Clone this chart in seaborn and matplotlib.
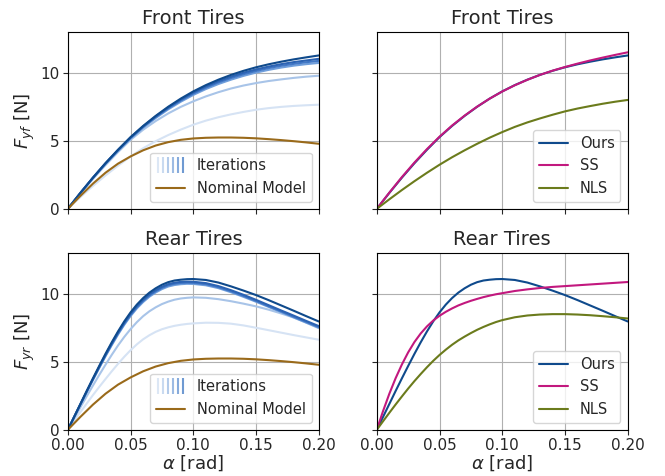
import numpy as np
import seaborn as sns
import matplotlib.pyplot as plt
from matplotlib.lines import Line2D
from matplotlib.legend_handler import HandlerTuple

sns.set_style('white')
plt.rcParams['font.family'] = ['DejaVu Sans']

alpha = [0.00, 0.01, 0.02, 0.03, 0.04, 0.05, 0.06, 0.07, 0.08, 0.09, 0.10,
         0.11, 0.12, 0.13, 0.14, 0.15, 0.16, 0.17, 0.18, 0.19, 0.20]
alpha_rear = [0.000, 0.005, 0.010, 0.015, 0.020, 0.025, 0.030, 0.035, 0.040, 0.045, 0.050,
              0.055, 0.060, 0.065, 0.070, 0.075, 0.080, 0.085, 0.090, 0.095, 0.100,
              0.11, 0.12, 0.13, 0.14, 0.15, 0.16, 0.17, 0.18, 0.19, 0.20]

# nominal model (same for front and rear)
nominal = [0, 0.95, 1.85, 2.65, 3.32, 3.85, 4.30, 4.65, 4.90, 5.07, 5.17,
           5.22, 5.24, 5.24, 5.22, 5.18, 5.12, 5.05, 4.97, 4.88, 4.78]

# front tire fits over iterations (last one = ours)
front_iters = [
    [0, 0.86, 1.68, 2.45, 3.17, 3.85, 4.45, 4.97, 5.42, 5.82, 6.18,
     6.48, 6.73, 6.94, 7.12, 7.28, 7.40, 7.49, 7.56, 7.61, 7.65],
    [0, 1.13, 2.20, 3.21, 4.17, 5.07, 5.81, 6.45, 7.01, 7.49, 7.90,
     8.26, 8.57, 8.84, 9.06, 9.24, 9.39, 9.51, 9.62, 9.71, 9.78],
    [0, 1.15, 2.25, 3.29, 4.26, 5.16, 5.96, 6.67, 7.31, 7.87, 8.37,
     8.80, 9.17, 9.49, 9.77, 10.01, 10.21, 10.38, 10.52, 10.63, 10.72],
    [0, 1.16, 2.27, 3.32, 4.30, 5.21, 6.02, 6.74, 7.39, 7.96, 8.47,
     8.91, 9.29, 9.61, 9.89, 10.13, 10.34, 10.51, 10.65, 10.77, 10.87],
    [0, 1.17, 2.29, 3.35, 4.33, 5.25, 6.06, 6.79, 7.45, 8.03, 8.55,
     9.00, 9.38, 9.71, 10.00, 10.24, 10.45, 10.63, 10.78, 10.90, 11.02],
    [0, 1.17, 2.29, 3.35, 4.34, 5.27, 6.09, 6.83, 7.50, 8.10, 8.63,
     9.09, 9.49, 9.84, 10.14, 10.40, 10.62, 10.81, 10.98, 11.13, 11.27],
]
front_ss = [0, 1.19, 2.33, 3.40, 4.39, 5.30, 6.12, 6.85, 7.51, 8.10, 8.62,
            9.08, 9.48, 9.84, 10.15, 10.42, 10.67, 10.90, 11.11, 11.31, 11.50]
front_nls = [0, 0.70, 1.38, 2.03, 2.65, 3.24, 3.79, 4.30, 4.78, 5.23, 5.64,
             6.02, 6.35, 6.64, 6.91, 7.16, 7.37, 7.55, 7.72, 7.87, 8.00]

# rear tire fits over iterations (last one = ours), on alpha_rear
rear_iters = [
    [0, 0.65, 1.30, 1.93, 2.55, 3.15, 3.73, 4.30, 4.85, 5.37, 5.85,
     6.28, 6.65, 6.95, 7.20, 7.39, 7.53, 7.64, 7.72, 7.78, 7.82,
     7.87, 7.86, 7.80, 7.67, 7.50, 7.32, 7.14, 6.96, 6.79, 6.62],
    [0, 0.83, 1.65, 2.46, 3.25, 4.03, 4.78, 5.51, 6.20, 6.83, 7.40,
     7.91, 8.35, 8.71, 9.00, 9.24, 9.42, 9.56, 9.65, 9.70, 9.73,
     9.70, 9.60, 9.45, 9.27, 9.07, 8.83, 8.55, 8.25, 7.87, 7.47],
    [0, 0.92, 1.84, 2.76, 3.66, 4.54, 5.40, 6.22, 7.00, 7.72, 8.36,
     8.92, 9.39, 9.78, 10.09, 10.34, 10.53, 10.64, 10.70, 10.73, 10.72,
     10.62, 10.41, 10.11, 9.77, 9.41, 9.03, 8.65, 8.26, 7.88, 7.50],
    [0, 0.93, 1.86, 2.79, 3.70, 4.59, 5.46, 6.29, 7.08, 7.80, 8.45,
     9.01, 9.48, 9.87, 10.18, 10.43, 10.62, 10.73, 10.79, 10.81, 10.80,
     10.70, 10.48, 10.18, 9.84, 9.47, 9.08, 8.70, 8.31, 7.93, 7.55],
    [0, 0.94, 1.88, 2.82, 3.74, 4.64, 5.52, 6.36, 7.15, 7.88, 8.53,
     9.09, 9.56, 9.95, 10.26, 10.51, 10.70, 10.81, 10.87, 10.89, 10.88,
     10.78, 10.56, 10.26, 9.92, 9.55, 9.16, 8.77, 8.39, 8.00, 7.62],
    [0, 0.95, 1.90, 2.85, 3.78, 4.69, 5.58, 6.43, 7.23, 7.97, 8.63,
     9.20, 9.68, 10.08, 10.40, 10.66, 10.85, 10.97, 11.03, 11.07, 11.08,
     11.01, 10.82, 10.54, 10.23, 9.90, 9.53, 9.14, 8.75, 8.35, 7.96],
]
rear_ss = [0, 1.38, 2.65, 3.79, 4.80, 5.69, 6.45, 7.08, 7.60, 8.03, 8.38,
           8.67, 8.92, 9.14, 9.32, 9.48, 9.62, 9.75, 9.86, 9.96, 10.04,
           10.20, 10.32, 10.42, 10.50, 10.56, 10.62, 10.68, 10.74, 10.80, 10.86]
rear_nls = [0, 0.63, 1.25, 1.86, 2.45, 3.03, 3.58, 4.10, 4.60, 5.07, 5.50,
            5.89, 6.25, 6.57, 6.85, 7.11, 7.35, 7.56, 7.75, 7.92, 8.06,
            8.27, 8.40, 8.47, 8.50, 8.50, 8.47, 8.42, 8.35, 8.27, 8.18]

iter_colors = ['#d6e3f4', '#a8c4e8', '#6f9edb', '#4278c6', '#2c63b3', '#0f4a8c']
legend_bar_colors = ['#dce7f5', '#c9daf0', '#b3cbea', '#9dbbe3', '#86abdc', '#6f9ad2']
c_ours = '#0f4a8c'
c_ss = '#c2187e'
c_nls = '#6b7b1c'
c_nom = '#9a6a1a'

fig, axes = plt.subplots(2, 2, sharex=True, sharey=True, figsize=(6.65, 4.76), dpi=100)
fig.subplots_adjust(left=0.102, right=0.944, top=0.933, bottom=0.097, wspace=0.231, hspace=0.249)

panels = [(alpha, front_iters, front_ss, front_nls, 'Front Tires'),
          (alpha_rear, rear_iters, rear_ss, rear_nls, 'Rear Tires')]
for row, (xs, iters, ss, nls, name) in enumerate(panels):
    ax = axes[row, 0]
    for vals, col in zip(iters, iter_colors):
        sns.lineplot(x=xs, y=vals, ax=ax, color=col, lw=1.5, legend=False)
    sns.lineplot(x=alpha, y=nominal, ax=ax, color=c_nom, lw=1.5, legend=False)
    bars = tuple(Line2D([], [], ls='none', marker='|', ms=11, mew=1.5, color=c)
                 for c in legend_bar_colors)
    nom_h = Line2D([], [], color=c_nom, lw=1.5)
    ax.legend([bars, nom_h], ['Iterations', 'Nominal Model'], loc='lower right',
              handler_map={tuple: HandlerTuple(ndivide=None, pad=0)}, fontsize=10.5)
    ax.set_title(name, fontsize=14)

    ax = axes[row, 1]
    sns.lineplot(x=xs, y=iters[-1], ax=ax, color=c_ours, lw=1.5, label='Ours')
    sns.lineplot(x=xs, y=ss, ax=ax, color=c_ss, lw=1.5, label='SS')
    sns.lineplot(x=xs, y=nls, ax=ax, color=c_nls, lw=1.5, label='NLS')
    ax.legend(loc='lower right', fontsize=10.5)
    ax.set_title(name, fontsize=14)

for ax in axes.flat:
    ax.grid(True, color='#b0b0b0', lw=0.8)
    ax.set_xlim(0, 0.2)
    ax.set_ylim(0, 13)
    ax.set_xticks([0.0, 0.05, 0.1, 0.15, 0.2])
    ax.set_yticks([0, 5, 10])
    ax.tick_params(labelsize=11, bottom=True, left=True, length=3.5, pad=2.5)
    for s in ax.spines.values():
        s.set_color('black')

axes[1, 0].xaxis.set_major_formatter(plt.FormatStrFormatter('%.2f'))
axes[0, 0].set_ylabel(r'$F_{yf}$ [N]', fontsize=13, labelpad=2)
axes[1, 0].set_ylabel(r'$F_{yr}$ [N]', fontsize=13, labelpad=2)
axes[1, 0].set_xlabel(r'$\alpha$ [rad]', fontsize=13, labelpad=0)
axes[1, 1].set_xlabel(r'$\alpha$ [rad]', fontsize=13, labelpad=0)

plt.savefig('out.png', dpi=100)
